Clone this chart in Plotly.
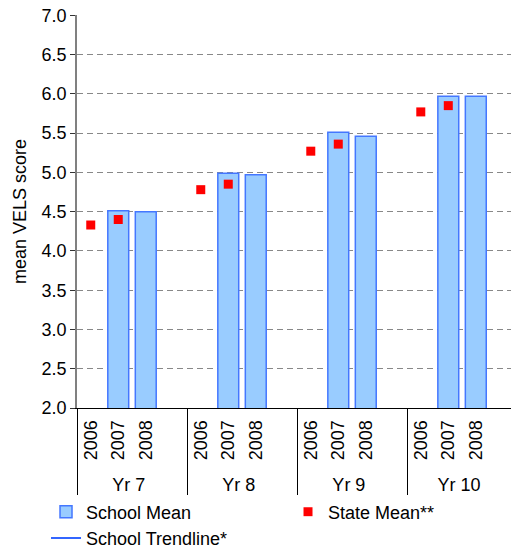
import plotly.graph_objects as go

groups = ["Yr 7", "Yr 8", "Yr 9", "Yr 10"]
years = ["2006", "2007", "2008", " "]

school_2007 = [4.51, 4.99, 5.51, 5.97]
school_2008 = [4.50, 4.97, 5.46, 5.97]
state_2006 = [4.33, 4.78, 5.27, 5.77]
state_2007 = [4.40, 4.85, 5.36, 5.85]

xg, xy, school_vals, state_vals = [], [], [], []
for i, g in enumerate(groups):
    for y in years:
        xg.append(g)
        xy.append(y)
        school_vals.append({"2007": school_2007[i], "2008": school_2008[i]}.get(y))
        state_vals.append({"2006": state_2006[i], "2007": state_2007[i]}.get(y))

FONT = "Liberation Sans, Arial, sans-serif"
FS = 18

fig = go.Figure()
fig.add_trace(go.Bar(
    x=[xg, xy], y=school_vals, name="School Mean",
    marker=dict(color="#99CCFF", line=dict(color="#4477FF", width=1.5)),
))
fig.add_trace(go.Scatter(
    x=[xg, xy], y=state_vals, name="State Mean**", mode="markers",
    marker=dict(symbol="square", color="#FF0000", size=9, line=dict(width=0)),
))
fig.add_trace(go.Scatter(
    x=[xg, xy], y=[None] * len(xg), name="School Trendline*", mode="lines",
    line=dict(color="#3366FF", width=2),
))

fig.update_layout(
    width=511, height=548,
    margin=dict(l=77, r=0, t=15, b=140, autoexpand=False),
    paper_bgcolor="white", plot_bgcolor="white",
    font=dict(family=FONT, size=FS, color="black"),
    bargap=0.24,
    showlegend=True,
    legend=dict(
        orientation="h", x=-0.0714, xanchor="left", y=-0.2175, yanchor="top",
        entrywidth=197, entrywidthmode="pixels",
        font=dict(size=FS), traceorder="normal",
        bgcolor="rgba(0,0,0,0)",
    ),
)
fig.update_yaxes(
    range=[2, 7.004], dtick=0.5, tick0=2, tickformat=".1f", automargin=False,
    ticklabeloverflow="allow",
    showgrid=True, gridcolor="#888888", gridwidth=1, griddash="6px,4px",
    showline=True, linecolor="#808080", linewidth=1.5,
    ticks="outside", ticklen=5, tickcolor="#333333",
    zeroline=False,
    title=dict(text="mean VELS score", font=dict(size=FS), standoff=10),
)
fig.update_xaxes(
    type="multicategory", range=[-0.5, 15.28], automargin=False,
    showline=True, linecolor="black", linewidth=1,
    showgrid=False, ticks="outside", ticklen=10, tickcolor="rgba(0,0,0,0)",
    ticklabelstandoff=4,
    tickangle=-90,
    showdividers=True, dividercolor="black", dividerwidth=1,
)

fig.write_html("out.html", post_script="document.body.style.margin='0';",
               config={"displayModeBar": False})
